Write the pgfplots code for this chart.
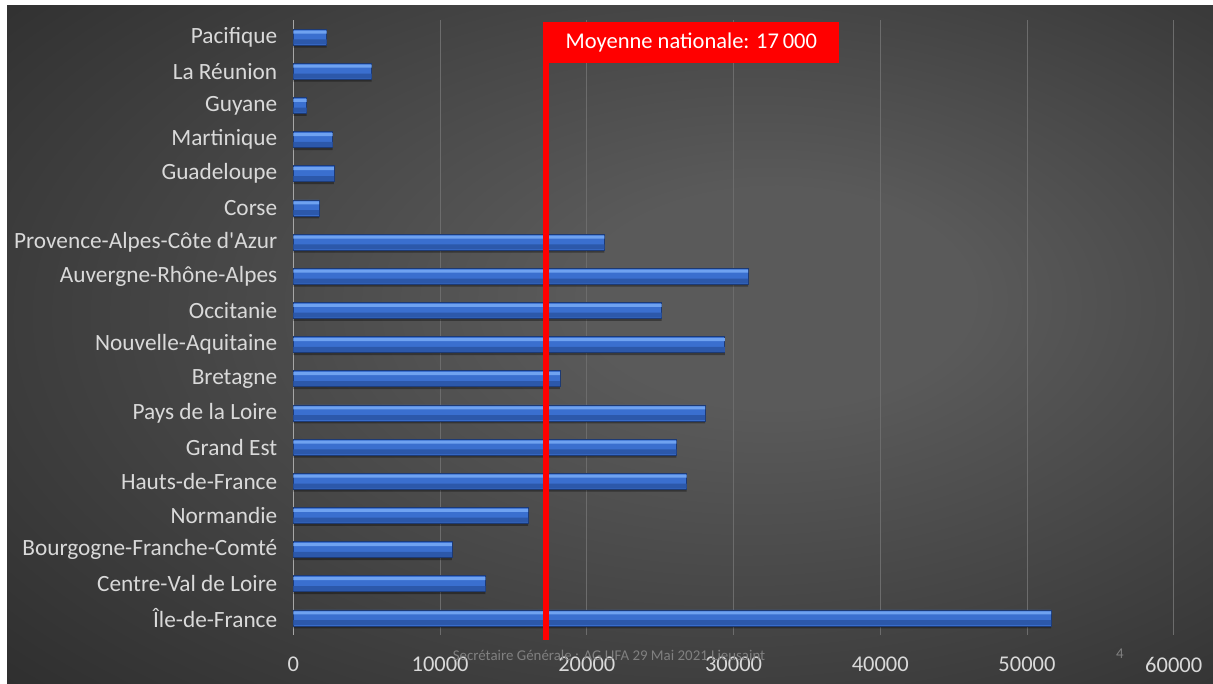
\documentclass[border=0pt]{standalone}
\usepackage{fontspec}
\setmainfont{Carlito}[Ligatures=TeXOff]
\usepackage{pgfplots}
\pgfplotsset{compat=1.18}
\definecolor{bgc1}{HTML}{5A5A5A}
\definecolor{bgc2}{HTML}{2A2A2A}
\definecolor{labcol}{HTML}{D9D9D9}
\definecolor{gridcol}{HTML}{6C6C6C}
\definecolor{axiscol}{HTML}{A6A6A6}
\definecolor{footcol}{HTML}{808080}
\definecolor{bmain}{HTML}{3A6FCF}
\definecolor{bdark}{HTML}{2C58AA}
\definecolor{bhigh}{HTML}{6FA2F0}
\definecolor{bedge}{HTML}{1D3A74}
\pgfdeclareradialshading{bgshade}{\pgfpoint{8bp}{4bp}}{color(0bp)=(bgc1); color(8bp)=(bgc1); color(42bp)=(bgc2); color(60bp)=(bgc2)}
\pgfplotstableread{
y v
0 51650
1 13080
2 10800
3 16000
4 26800
5 26100
6 28070
7 18170
8 29400
9 25100
10 31000
11 21200
12 1760
13 2760
14 2670
15 900
16 5330
17 2260
}\regions
\begin{document}
\begin{tikzpicture}[x=1pt,y=1pt]
\useasboundingbox (0,0) rectangle (1213,684);
\fill[white] (0,0) rectangle (1213,684);
\shade[shading=bgshade] (7,0) rectangle (1213,678);
\begin{axis}[
  at={(293.4pt,49pt)}, anchor=south west,
  scale only axis, width=880.3pt, height=615pt,
  xmin=0, xmax=60000, ymin=-0.5, ymax=17.5,
  axis x line*=bottom, axis y line*=left,
  x axis line style={draw=none},
  y axis line style={draw=axiscol, line width=1.2pt, -},
  major tick length=0pt,
  xmajorgrids, major grid style={gridcol, line width=0.8pt},
  xtick={0,10000,20000,30000,40000,50000,60000},
  xticklabels={0,10000,20000,30000,40000,50000,60000},
  ytick={0,...,17},
  yticklabels={Île-de-France,Centre-Val de Loire,Bourgogne-Franche-Comté,Normandie,Hauts-de-France,Grand Est,Pays de la Loire,Bretagne,Nouvelle-Aquitaine,Occitanie,Auvergne-Rhône-Alpes,Provence-Alpes-Côte d'Azur,Corse,Guadeloupe,Martinique,Guyane,La Réunion,Pacifique},
  xticklabel style={font=\fontsize{22.5}{26}\selectfont, text=labcol, inner sep=0pt, anchor=north, yshift=-22pt},
  yticklabel style={font=\fontsize{23.3}{27}\selectfont, text=labcol, inner sep=0pt, anchor=east, xshift=-16pt},
  clip=false,
]
% shadow
\addplot[xbar, bar width=16pt, bar shift=-2.5pt, fill=black, fill opacity=0.35, draw=none, forget plot] table[x=v, y=y] {\regions};
% main bar
\addplot[xbar, bar width=16pt, bar shift=0pt, fill=bmain, draw=bedge, line width=0.6pt, forget plot] table[x=v, y=y] {\regions};
% darker lower band
\addplot[xbar, bar width=5pt, bar shift=-4.8pt, fill=bdark, draw=none, forget plot] table[x=v, y=y] {\regions};
% highlight band near top
\addplot[xbar, bar width=3pt, bar shift=5pt, fill=bhigh, draw=none, forget plot] table[x=v, y=y] {\regions};
\addplot[red, line width=6pt, forget plot] coordinates {(17250,-0.65) (17250,17.43)};
\fill[red] (axis cs:17050,16.25) rectangle (axis cs:37200,17.43);
\node[text=white, font=\fontsize{22.5}{26}\selectfont] at (axis cs:27125,16.84) {Moyenne nationale: 17\,000};
\end{axis}
\node[text=footcol, font=\fontsize{14.9}{17}\selectfont] at (609,29) {Secrétaire Générale : AG UFA 29 Mai 2021 Lieusaint};
\node[text=footcol, font=\fontsize{14.9}{17}\selectfont] at (1120,30) {4};
\end{tikzpicture}
\end{document}
